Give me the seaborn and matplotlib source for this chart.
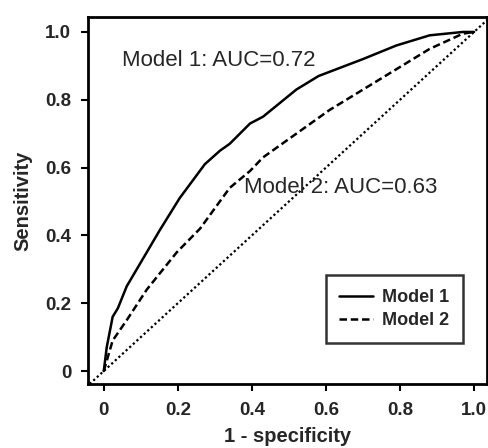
import numpy as np
import pandas as pd
import matplotlib
matplotlib.use("Agg")
import matplotlib.pyplot as plt
import seaborn as sns

# Data
m1_fpr = [0.0, 0.008, 0.024, 0.038, 0.062, 0.116, 0.151, 0.205, 0.273, 0.314, 0.34, 0.395, 0.43, 0.52, 0.58, 0.70, 0.79, 0.88, 0.97, 1.0]
m1_tpr = [0.0, 0.07, 0.16, 0.185, 0.25, 0.35, 0.415, 0.51, 0.61, 0.65, 0.67, 0.73, 0.75, 0.83, 0.87, 0.92, 0.96, 0.99, 1.0, 1.0]
m2_fpr = [0.0, 0.024, 0.062, 0.116, 0.197, 0.26, 0.34, 0.395, 0.43, 0.52, 0.61, 0.70, 0.79, 0.88, 0.97, 1.0]
m2_tpr = [0.0, 0.09, 0.15, 0.24, 0.35, 0.42, 0.54, 0.59, 0.63, 0.70, 0.77, 0.83, 0.89, 0.95, 0.995, 1.0]
model_names = ["Model 1", "Model 2"]
annotations = ["Model 1: AUC=0.72", "Model 2: AUC=0.63"]
x_ticks = [0, 0.2, 0.4, 0.6, 0.8, 1.0]
x_ticklabels = ["0", "0.2", "0.4", "0.6", "0.8", "1.0"]
y_ticks = [0, 0.2, 0.4, 0.6, 0.8, 1.0]
y_ticklabels = ["0", "0.2", "0.4", "0.6", "0.8", "1.0"]

df = pd.concat([
    pd.DataFrame({"fpr": m1_fpr, "tpr": m1_tpr, "model": model_names[0]}),
    pd.DataFrame({"fpr": m2_fpr, "tpr": m2_tpr, "model": model_names[1]}),
])

sns.set_theme(style="ticks")
plt.rcParams["font.family"] = ["Liberation Sans", "DejaVu Sans"]

fig = plt.figure(figsize=(4.88, 4.48), dpi=100)
ax = fig.add_axes([0.180, 0.143, 0.818, 0.819])

ax.axline((0, 0), (1, 1), color="black", linestyle=(0, (1, 1.2)), linewidth=1.6, zorder=1)
sns.lineplot(data=df, x="fpr", y="tpr", style="model", style_order=model_names,
             dashes={"Model 1": "", "Model 2": (3, 1.5)}, color="black",
             linewidth=1.8, estimator=None, sort=False, ax=ax)

ax.set_xlim(-0.043, 1.035)
ax.set_ylim(-0.038, 1.044)
ax.set_xticks(x_ticks)
ax.set_xticklabels(x_ticklabels, fontsize=13.5, fontweight="bold")
ax.set_yticks(y_ticks)
ax.set_yticklabels(y_ticklabels, fontsize=13.5, fontweight="bold")
ax.tick_params(axis="x", direction="out", length=5, width=1.5, color="black", pad=8)
ax.tick_params(axis="y", direction="out", length=5, width=1.5, color="black", pad=7)
for s in ax.spines.values():
    s.set_visible(True)
    s.set_linewidth(2)
    s.set_color("black")
ax.set_xlabel("1 - specificity", fontsize=14.5, fontweight="bold", labelpad=6)
ax.set_ylabel("Sensitivity", fontsize=14.5, fontweight="bold", labelpad=9)

ax.text(0.05, 0.915, annotations[0], fontsize=16, va="center", ha="left")
ax.text(0.38, 0.54, annotations[1], fontsize=16, va="center", ha="left")

leg = ax.legend(loc="lower right", bbox_to_anchor=(0.94, 0.112),
                frameon=True, fancybox=False, handlelength=1.9, handletextpad=0.5,
                borderpad=0.75, labelspacing=0.35, borderaxespad=0,
                prop={"weight": "bold", "size": 13})
leg.get_frame().set_edgecolor("black")
leg.get_frame().set_linewidth(1.8)
leg.set_title(None)

fig.savefig("out.png", dpi=100)
